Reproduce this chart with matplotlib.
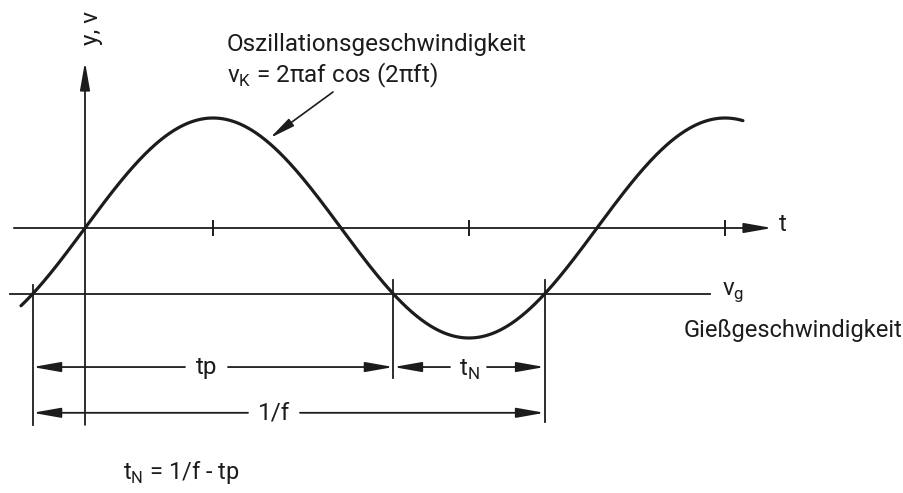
# Oszillationsdiagramm (Kokille): Geschwindigkeit und Gießgeschwindigkeit
import numpy as np
import matplotlib.pyplot as plt

plt.rcParams['font.family'] = ['Roboto', 'DejaVu Sans']
plt.rcParams['mathtext.fontset'] = 'custom'
plt.rcParams['mathtext.rm'] = 'Roboto'

# Daten (t in Perioden 1/f, v normiert auf 2*pi*a*f)
period = 1.0
amplitude = 1.0
t_start, t_end = -0.125, 1.285
v_g = -0.6
tick_t = [0.25, 0.75, 1.25]

ink = '#1c1c1c'

# Kurve
t = np.linspace(t_start, t_end, 600)
v = amplitude * np.sin(2 * np.pi * t / period)

# Schnittpunkte mit v_g
phi = np.arcsin(v_g / amplitude)
t_a = phi / (2 * np.pi) * period                  # links
t_b = (np.pi - phi) / (2 * np.pi) * period        # Ende tp
t_c = t_a + period                                # Ende 1/f

fig = plt.figure(figsize=(9.04, 4.93), dpi=100)
ax = fig.add_axes([0, 0, 1, 1])
ax.set_xlim(-85 / 512, (904 - 85) / 512)
ax.set_ylim(-(493 - 228) / 110, 228 / 110)
ax.axis('off')

ax.plot(t, v, color=ink, lw=2.3, solid_capstyle='round')

arr = dict(arrowstyle='-|>,head_length=0.85,head_width=0.15', color=ink,
           lw=1.3, mutation_scale=20, shrinkA=0, shrinkB=0)

# Achsen
ax.annotate('', xy=(0, 1.51), xytext=(0, -1.79), arrowprops=arr)
ax.annotate('', xy=(1.342, 0), xytext=(-0.139, 0), arrowprops=arr)
for tt in tick_t:
    ax.plot([tt, tt], [-0.065, 0.065], color=ink, lw=1.4)
ax.plot([-0.146, 1.22], [v_g, v_g], color=ink, lw=1.3)

# Hilfslinien
ax.plot([t_a, t_a], [-0.52, -1.79], color=ink, lw=1.3)
ax.plot([t_b, t_b], [-0.47, -1.36], color=ink, lw=1.3)
ax.plot([t_c, t_c], [-0.47, -1.76], color=ink, lw=1.3)

# Bemaßung
y_tp, y_f = -1.264, -1.68
def dim(x0, x1, y, g0, g1):
    ax.annotate('', xy=(x0, y), xytext=(g0, y), arrowprops=arr)
    ax.annotate('', xy=(x1, y), xytext=(g1, y), arrowprops=arr)

dim(t_a, t_b, y_tp, (185 - 85) / 512, (228 - 85) / 512)
dim(t_b, t_c, y_tp, (450 - 85) / 512, (487 - 85) / 512)
dim(t_a, t_c, y_f, (248 - 85) / 512, (300 - 85) / 512)

fs = 17.5
ax.text((207 - 85) / 512, y_tp, 'tp', fontsize=fs, color=ink, ha='center', va='center')
ax.text((469 - 85) / 512, y_tp - 0.03, 't$_\\mathrm{N}$', fontsize=fs, color=ink, ha='center', va='center')
ax.text((274 - 85) / 512, y_f, '1/f', fontsize=fs, color=ink, ha='center', va='center')

ax.text(0.012, 1.82, 'y, v', fontsize=fs, color=ink, rotation=90, ha='center', va='center')
ax.text(1.355, 0.03, 't', fontsize=fs, color=ink, ha='left', va='center')
ax.text(1.245, v_g + 0.02, 'v$_\\mathrm{g}$', fontsize=fs, color=ink, ha='left', va='center')
ax.text((903 - 85) / 512, -0.93, 'Gießgeschwindigkeit', fontsize=17, color=ink, ha='right', va='center')

ax.text((227 - 85) / 512, 1.67, 'Oszillationsgeschwindigkeit', fontsize=fs, color=ink, ha='left', va='center')
ax.text((227 - 85) / 512, 1.39, 'v$_\\mathrm{K}$ = 2πaf cos (2πft)', fontsize=fs, color=ink, ha='left', va='center')
ax.annotate('', xy=((270 - 85) / 512, (228 - 138) / 110),
            xytext=((333 - 85) / 512, (228 - 92) / 110),
            arrowprops=dict(arrowstyle='-|>,head_length=0.85,head_width=0.15', color=ink,
                            lw=1.2, mutation_scale=18, shrinkA=0, shrinkB=0))

ax.text((123 - 85) / 512, -2.22, 't$_\\mathrm{N}$ = 1/f - tp', fontsize=17, color=ink, ha='left', va='center')

fig.savefig('out.png', dpi=100, facecolor='white')
